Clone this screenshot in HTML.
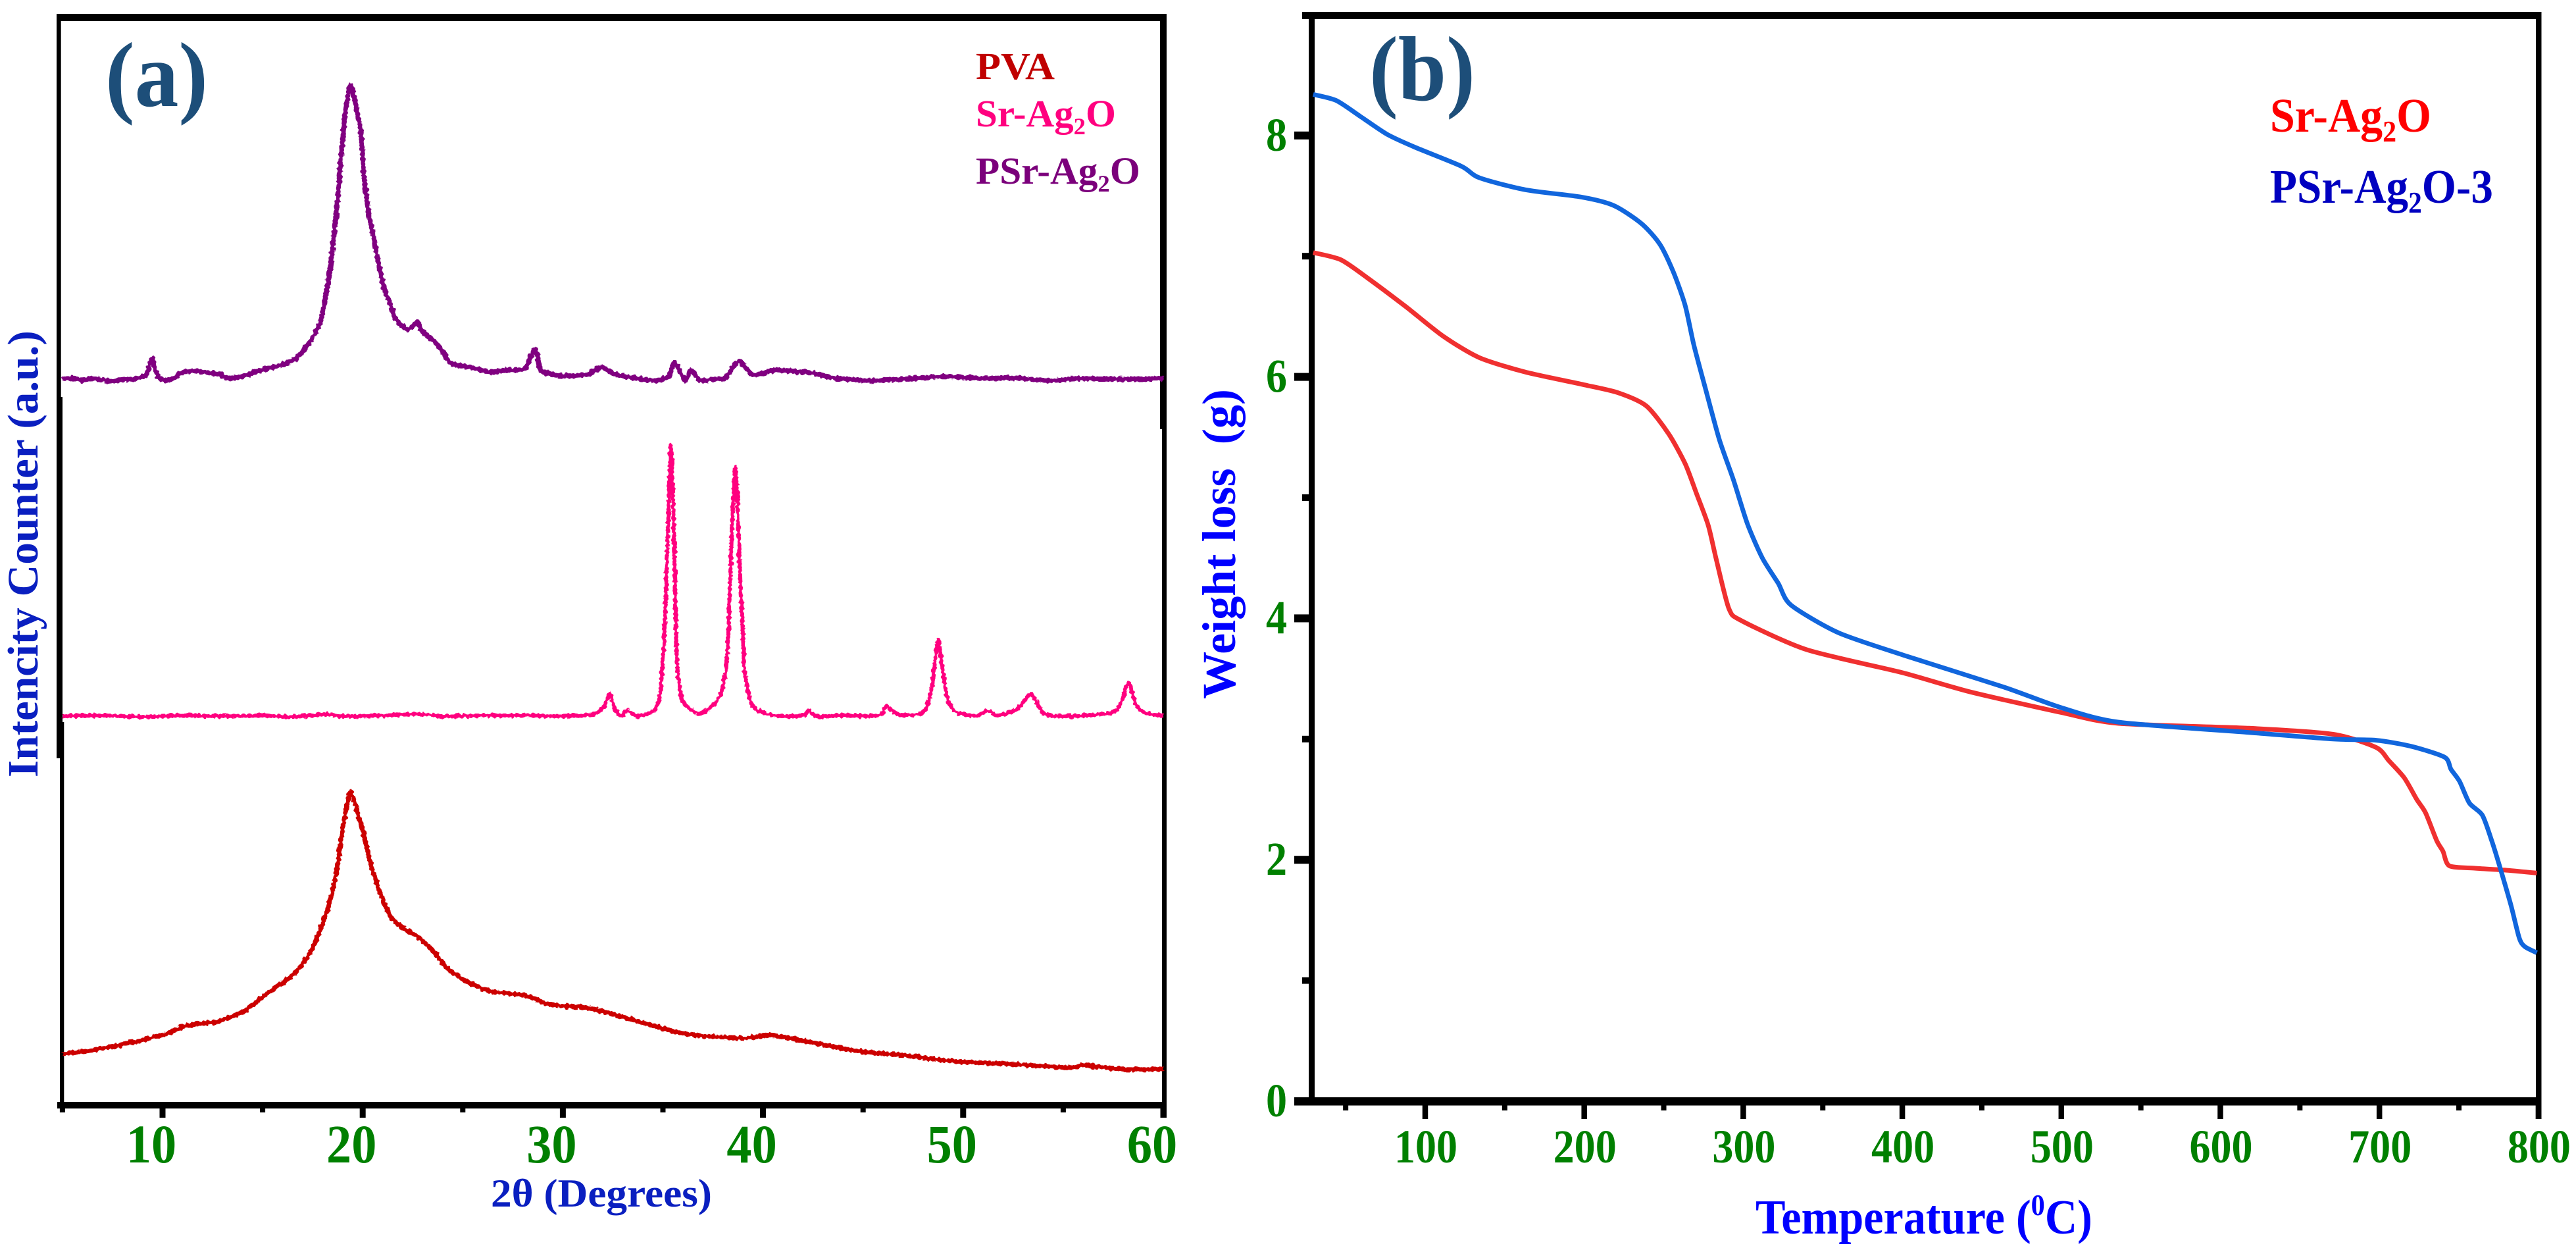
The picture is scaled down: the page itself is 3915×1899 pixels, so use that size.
<!DOCTYPE html>
<html lang="en">
<head>
<meta charset="utf-8">
<title>XRD and TGA charts</title>
<style>
html,body{margin:0;padding:0;background:#fff;}
svg{display:block;}
text{font-family:"Liberation Serif",serif;font-weight:bold;}
</style>
</head>
<body>
<svg id="fig" xmlns="http://www.w3.org/2000/svg" width="3915" height="1899" viewBox="0 0 3915 1899">
<defs>
<filter id="noisy" filterUnits="userSpaceOnUse" x="60" y="60" width="1760" height="1640">
<feTurbulence type="fractalNoise" baseFrequency="0.22" numOctaves="1" seed="4" result="n"/>
<feDisplacementMap in="SourceGraphic" in2="n" scale="7" xChannelSelector="R" yChannelSelector="G"/>
</filter>
</defs>
<rect width="3915" height="1899" fill="#fff"/>
<g id="frameA" fill="#000">
<rect x="86" y="21" width="1687" height="11"/>
<rect x="86" y="21" width="6.7" height="582"/>
<rect x="86" y="603" width="9" height="494"/>
<rect x="86" y="1097" width="11.3" height="55"/>
<rect x="91" y="1152" width="6.3" height="532"/>
<rect x="1763" y="21" width="10" height="631"/>
<rect x="1766" y="652" width="7" height="1046"/>
<rect x="87" y="1674" width="1686" height="10"/>
</g>
<g id="frameB" fill="#000">
<rect x="1979" y="18" width="1883.5" height="11"/>
<rect x="1989" y="18" width="9" height="1655"/>
<rect x="3854" y="18" width="8.5" height="1682"/>
<rect x="1967" y="1667" width="1895" height="12.5"/>
</g>
<g id="axesA"></g>
<g id="axesB"></g>
<g id="linesA" filter="url(#noisy)"></g>
<g id="linesB"></g>

<text id="panelA" font-size="140" fill="#1d4e79">(a)</text>
<text id="panelB" font-size="140" fill="#1d4e79">(b)</text>

<text id="legPVA" font-size="58" fill="#c00000">PVA</text>
<text id="legSr" font-size="58" fill="#ff007f">Sr-Ag<tspan font-size="36" dy="12">2</tspan><tspan dy="-12">O</tspan></text>
<text id="legPSr" font-size="58" fill="#7b007b">PSr-Ag<tspan font-size="36" dy="12">2</tspan><tspan dy="-12">O</tspan></text>
<text id="legBSr" font-size="73" fill="#ff0000">Sr-Ag<tspan font-size="45" dy="15">2</tspan><tspan dy="-15">O</tspan></text>
<text id="legBPSr" font-size="73" fill="#0000c0">PSr-Ag<tspan font-size="45" dy="15">2</tspan><tspan dy="-15">O-3</tspan></text>

<text id="titleAx" font-size="60" fill="#0a1fc0">2θ (Degrees)</text>
<text id="titleAy" font-size="66" fill="#0a1fc0">Intencity Counter (a.u.)</text>
<text id="titleBx" font-size="74" fill="#0000ff">Temperature (<tspan font-size="46" dy="-28">0</tspan><tspan dy="28">C)</tspan></text>
<text id="titleBy" font-size="72" fill="#0000ff" xml:space="preserve">Weight loss  (g)</text>
</svg>
<script>
// ---------- Panel (a) XRD data: [2theta, counts] ----------
const xrdMajorTicks = [10, 20, 30, 40, 50, 60];
const xrdMinorTicks = [5, 15, 25, 35, 45, 55];
const pvaSeries = [[5,73],[5.5,75],[6,76],[6.7,80],[7.5,84],[8.2,89],[8.8,92],[9.5,98],[10.26,104],[10.7,110],[11.1,115],[11.8,119],[12.6,121],[13.3,128],[14.04,137],[14.7,152],[15.3,166],[16,181],[16.55,194],[17,210],[17.4,228],[18,271],[18.44,314],[18.75,362],[18.96,409],[19.2,448],[19.4,471],[19.7,445],[20.1,400],[20.4,362],[20.85,319],[21.37,283],[22,264],[22.7,252],[23.5,230],[24.3,201],[25.4,180],[26.4,168],[28.1,162],[29.1,150],[30,146],[31.2,143],[32.9,130],[34.6,115],[36,104],[37.5,99],[39.15,97],[40.5,101],[42.5,90],[44.8,77],[47.3,70],[49.4,62],[52.6,57],[55.4,52],[56,56],[57.8,50],[60,50]];
const srAg2oSeries = [[5,586],[7,587],[9,585],[11,587],[13,586],[15,587],[16.5,585],[18.2,589],[19,586],[21,587],[22.8,589],[24,586],[26,587],[28.18,587],[30,586],[31.5,589],[32.06,601],[32.35,621],[32.6,596],[32.96,587],[33.2,595],[33.7,586],[34.5,594],[34.85,617],[35.06,704],[35.16,787],[35.27,887],[35.39,997],[35.5,921],[35.58,821],[35.7,671],[35.9,617],[36.15,602],[36.9,590],[37.8,614],[38.14,654],[38.28,721],[38.39,821],[38.5,904],[38.62,966],[38.73,904],[38.83,821],[38.98,721],[39.1,651],[39.5,601],[40.55,587],[42,587],[42.3,595],[42.65,586],[44,587],[45.8,587],[46.15,601],[46.84,588],[48,592],[48.4,624],[48.6,671],[48.77,701],[48.93,664],[49.2,614],[49.67,592],[50.7,587],[51.2,594],[51.77,587],[52.7,597],[53.38,619],[53.97,592],[54.6,586],[56.06,587],[57.5,592],[57.95,611],[58.26,637],[58.6,607],[59,592],[60,586]];
const psrAg2oSeries = [[5,1098],[5.5,1100],[6,1096],[6.5,1099],[7,1097],[7.5,1095],[8,1097],[8.5,1098],[9,1102],[9.2,1105],[9.47,1129],[9.74,1104],[10.1,1096],[10.5,1098],[10.9,1107],[11.5,1111],[12.2,1108],[12.8,1106],[13.2,1100],[13.6,1100],[14,1102],[14.5,1107],[15,1112],[15.5,1116],[16,1120],[16.55,1127],[17,1140],[17.4,1156],[17.9,1187],[18.3,1250],[18.65,1339],[18.96,1451],[19.2,1518],[19.4,1545],[19.6,1522],[19.9,1473],[20.1,1397],[20.4,1335],[20.75,1281],[21.06,1237],[21.4,1210],[21.7,1187],[22.2,1174],[22.5,1178],[22.75,1185],[23,1170],[23.7,1152],[24.4,1123],[25,1118],[25.4,1116],[26.4,1109],[27.2,1112],[28.1,1114],[28.6,1143],[28.9,1112],[29.4,1106],[30,1103],[31.2,1105],[31.9,1116],[32.7,1105],[33.95,1098],[34.75,1096],[35.3,1103],[35.6,1123],[36.1,1096],[36.4,1112],[36.85,1096],[37.5,1098],[38.1,1100],[38.8,1125],[39.5,1105],[40.6,1112],[41.5,1110],[42.5,1107],[43.55,1100],[45.2,1096],[47,1098],[49,1102],[51,1099],[52.5,1100],[54.2,1096],[56,1099],[58,1098],[60,1099]];

// ---------- Panel (b) TGA data: [temperature, weight] ----------
const tgaXMajorTicks = [100, 200, 300, 400, 500, 600, 700, 800];
const tgaXMinorTicks = [50, 150, 250, 350, 450, 550, 650, 750];
const tgaYMajorTicks = [0, 2, 4, 6, 8];
const tgaYMinorTicks = [1, 3, 5, 7];
const tgaSrSeries = [[29.6,7.03],[47,6.97],[64.7,6.81],[88,6.58],[111,6.34],[134,6.16],[163,6.04],[198,5.94],[221,5.87],[239,5.76],[253,5.53],[263.5,5.28],[270.7,5.03],[278,4.77],[283,4.49],[291,4.08],[299,3.98],[340,3.74],[400,3.55],[443,3.39],[500,3.22],[536,3.13],[618,3.09],[671,3.04],[698,2.93],[706,2.82],[715.6,2.68],[723.5,2.5],[729,2.39],[736,2.16],[740,2.07],[744,1.95],[760,1.93],[778.5,1.915],[799,1.89]];
const tgaPsrSeries = [[29.6,8.34],[44,8.29],[59,8.16],[76,8.01],[94,7.9],[122.8,7.745],[134,7.65],[163,7.55],[198,7.49],[218.5,7.42],[236,7.27],[247.5,7.1],[256,6.87],[263.5,6.59],[269,6.26],[276.5,5.89],[285,5.48],[294,5.14],[302.7,4.78],[312,4.5],[322,4.29],[330,4.11],[360,3.88],[402,3.69],[464,3.43],[500,3.26],[536,3.14],[618,3.055],[671,3],[698,2.99],[720,2.94],[741,2.85],[745,2.75],[750.4,2.65],[756.6,2.47],[764.7,2.37],[770.6,2.16],[776,1.93],[782.7,1.625],[788,1.35],[791.5,1.28],[799,1.23]];

// ---------- Axis functions ----------
function xA(v){ return 247 + (v - 10) * 30.42; }
function yA(v){ return 1674 - v; }
function xB(v){ return 2166 + (v - 100) * 2.417; }
function yB(v){ return 1673 - v * 183.4; }

const NS = 'http://www.w3.org/2000/svg';
function mk(parent, tag, attrs){
  const el = document.createElementNS(NS, tag);
  for (const k in attrs) el.setAttribute(k, attrs[k]);
  parent.appendChild(el);
  return el;
}
function smoothPath(pts){
  let d = 'M' + pts[0][0].toFixed(1) + ' ' + pts[0][1].toFixed(1);
  for (let i = 0; i < pts.length - 1; i++){
    const p0 = pts[Math.max(i - 1, 0)], p1 = pts[i], p2 = pts[i + 1], p3 = pts[Math.min(i + 2, pts.length - 1)];
    const c1x = p1[0] + (p2[0] - p0[0]) / 8, c1y = p1[1] + (p2[1] - p0[1]) / 8;
    const c2x = p2[0] - (p3[0] - p1[0]) / 8, c2y = p2[1] - (p3[1] - p1[1]) / 8;
    d += 'C' + c1x.toFixed(1) + ' ' + c1y.toFixed(1) + ' ' + c2x.toFixed(1) + ' ' + c2y.toFixed(1) + ' ' + p2[0].toFixed(1) + ' ' + p2[1].toFixed(1);
  }
  return d;
}
function drawLine(parent, data, fx, fy, color, width, name){
  const pl = mk(parent, 'path', {
    d: smoothPath(data.map(p => [fx(p[0]), fy(p[1])])),
    fill: 'none', stroke: color, 'stroke-width': width,
    'stroke-linejoin': 'round', 'stroke-linecap': 'butt'
  });
  
  
}
function tickLabel(parent, str, cx, base, size, sx, name){
  const t = mk(parent, 'text', {
    'text-anchor': 'middle', 'font-size': size, fill: '#008000',
    transform: 'translate(' + cx + ',' + base + ') scale(' + sx + ',1)'
  });
  t.textContent = str;
  
  
}
function fit(id, x, y, width){
  const el = document.getElementById(id);
  const w = el.getComputedTextLength();
  el.setAttribute('transform', 'translate(' + x + ',' + y + ') scale(' + (width / w).toFixed(4) + ',1)');
}
function fitV(id, x, yBottom, len){
  const el = document.getElementById(id);
  const w = el.getComputedTextLength();
  el.setAttribute('transform', 'translate(' + x + ',' + yBottom + ') rotate(-90) scale(' + (len / w).toFixed(4) + ',1)');
}

// ---------- Panel (a) ticks ----------
const axesA = document.getElementById('axesA');
xrdMajorTicks.forEach(v => {
  const r = mk(axesA, 'rect', { x: xA(v) - 4.5, y: 1680, width: 9, height: 18, fill: '#000' });
  
  
  tickLabel(axesA, String(v), xA(v) - 17, 1766, 83, 0.92, 'x-tick-label-a');
});
xrdMinorTicks.forEach(v => {
  const r = mk(axesA, 'rect', { x: xA(v) - 4, y: 1680, width: 8, height: 10, fill: '#000' });
  
  
});

// ---------- Panel (b) ticks ----------
const axesB = document.getElementById('axesB');
tgaXMajorTicks.forEach(v => {
  const r = mk(axesB, 'rect', { x: xB(v) - 4.25, y: 1675, width: 8.5, height: 25, fill: '#000' });
  
  
  tickLabel(axesB, String(v), xB(v) + 1, 1766, 72, 0.89, 'x-tick-label-b');
});
tgaXMinorTicks.forEach(v => {
  const r = mk(axesB, 'rect', { x: xB(v) - 4, y: 1675, width: 8, height: 12, fill: '#000' });
  
  
});
tgaYMajorTicks.forEach(v => {
  const r = mk(axesB, 'rect', { x: 1967, y: yB(v) - 6, width: 24, height: 12, fill: '#000' });
  
  
  tickLabel(axesB, String(v), 1940, yB(v) + 23, 72, 0.89, 'y-tick-label-b');
});
tgaYMinorTicks.forEach(v => {
  const r = mk(axesB, 'rect', { x: 1979, y: yB(v) - 5, width: 12, height: 10, fill: '#000' });
  
  
});

// ---------- Series ----------
const linesA = document.getElementById('linesA');
drawLine(linesA, pvaSeries, xA, yA, '#cc0000', 7, 'series-pva');
drawLine(linesA, srAg2oSeries, xA, yA, '#ff007f', 6, 'series-sr-ag2o');
drawLine(linesA, psrAg2oSeries, xA, yA, '#800080', 7.5, 'series-psr-ag2o');
const linesB = document.getElementById('linesB');
drawLine(linesB, tgaSrSeries, xB, yB, '#f03030', 7, 'series-tga-sr-ag2o');
drawLine(linesB, tgaPsrSeries, xB, yB, '#1166dd', 7, 'series-tga-psr-ag2o-3');

// ---------- Text placement ----------
fit('panelA', 160, 161, 156);
fit('panelB', 2081, 152, 161);
fit('legPVA', 1483, 120, 120);
fit('legSr', 1483, 192, 213);
fit('legPSr', 1483, 279, 250);
fit('legBSr', 3450, 200, 245);
fit('legBPSr', 3450, 308, 339);
fit('titleAx', 746, 1833, 336);
fit('titleBx', 2668, 1874, 512);
fitV('titleAy', 57, 1181, 679);
fitV('titleBy', 1877, 1062, 471);
</script>
</body>
</html>
